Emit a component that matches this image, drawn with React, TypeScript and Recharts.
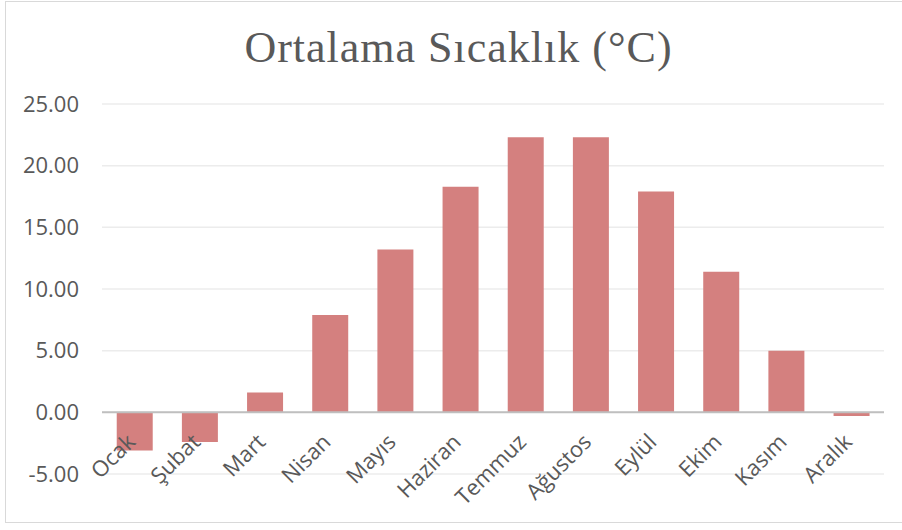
import { BarChart, Bar, XAxis, YAxis, CartesianGrid, ReferenceLine } from 'recharts';

const months = ['Ocak', 'Şubat', 'Mart', 'Nisan', 'Mayıs', 'Haziran', 'Temmuz', 'Ağustos', 'Eylül', 'Ekim', 'Kasım', 'Aralık'];
const temps = [-3.1, -2.4, 1.6, 7.9, 13.2, 18.3, 22.3, 22.3, 17.9, 11.4, 5.0, -0.3];
const yTicks = [-5, 0, 5, 10, 15, 20, 25];

const TITLE = 'Ortalama Sıcaklık (°C)';
const TEXT = '#595959';
const BAR = '#d4807f';

// plot geometry (used to drop the category labels onto the zero line)
const PLOT_TOP = 104;
const PLOT_H = 370;
const Y_MIN = -5;
const Y_MAX = 25;
const ZERO_Y = PLOT_TOP + (PLOT_H * Y_MAX) / (Y_MAX - Y_MIN);

const data = months.map((m, i) => ({ month: m, temp: temps[i] }));

function MonthTick(props: any) {
  const { x, payload } = props;
  const ax = x + 2;
  const ay = ZERO_Y + 31;
  return (
    <text
      x={ax}
      y={ay}
      transform={`rotate(-45, ${ax}, ${ay})`}
      textAnchor="end"
      fill={TEXT}
      fontSize={22}
      fontFamily="'Open Sans', sans-serif"
    >
      {payload.value}
    </text>
  );
}

export default function App() {
  return (
    <div style={{ position: 'absolute', left: 0, top: 0, width: 902, height: 530, background: '#fff', overflow: 'hidden' }}>
      <div
        style={{
          position: 'absolute',
          left: 5,
          top: 1,
          width: 910,
          height: 522,
          border: '1.5px solid #d9d9d9',
          boxSizing: 'border-box',
        }}
      />
      <div
        style={{
          position: 'absolute',
          left: 0,
          top: 20,
          width: 917,
          textAlign: 'center',
          fontFamily: "'Liberation Serif', serif",
          fontSize: 44,
          letterSpacing: 1,
          color: TEXT,
          lineHeight: '56px',
        }}
      >
        {TITLE}
      </div>
      <div style={{ position: 'absolute', left: 0, top: 0 }}>
        <BarChart
          width={902}
          height={530}
          data={data}
          margin={{ top: PLOT_TOP, right: 18, bottom: 16, left: 0 }}
          barCategoryGap="22.6%"
        >
          <CartesianGrid vertical={false} stroke="#ececec" strokeWidth={1.5} />
          <XAxis dataKey="month" axisLine={false} tickLine={false} height={40} tick={<MonthTick />} interval={0} />
          <YAxis
            domain={[Y_MIN, Y_MAX]}
            ticks={yTicks}
            width={102}
            axisLine={false}
            tickLine={false}
            tickMargin={17}
            tickFormatter={(v) => Number(v).toFixed(2)}
            tick={{ fill: TEXT, fontSize: 22, fontFamily: "'Open Sans', sans-serif" }}
          />
          <Bar dataKey="temp" fill={BAR} isAnimationActive={false} />
          <ReferenceLine y={0} stroke="#bfbfbf" strokeWidth={2} />
        </BarChart>
      </div>
    </div>
  );
}
